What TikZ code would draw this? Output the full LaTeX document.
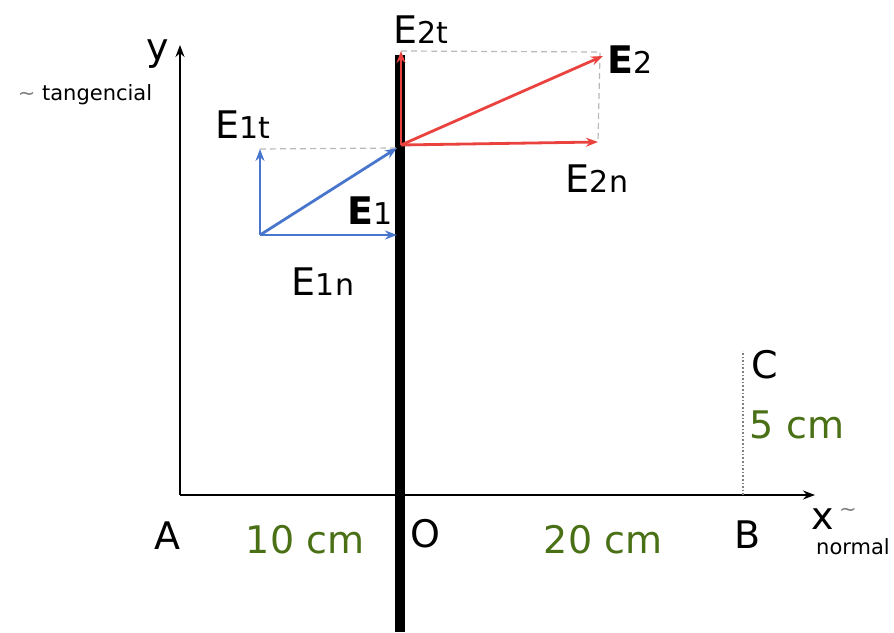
\documentclass[tikz,border=0pt]{standalone}
\usepackage{fontspec}
\setmainfont{DejaVu Sans}
\usetikzlibrary{arrows.meta}
\definecolor{vblue}{RGB}{72,118,204}
\definecolor{vred}{RGB}{234,66,62}
\definecolor{distgreen}{RGB}{74,112,22}
\newcommand{\vidx}[1]{{\fontsize{15}{17}\selectfont #1}}

\begin{document}
\begin{tikzpicture}[x=0.5pt, y=0.5pt,
    axis/.style={line width=0.9pt, -{Stealth[length=6pt,width=4.5pt]}},
    vec/.style={line width=1.4pt, -{Stealth[length=6pt,width=4.5pt]}},
    guide/.style={gray!55, densely dashed, line width=0.6pt},
    lbl/.style={font=\fontsize{19}{22}\selectfont, inner sep=0pt},
    dist/.style={lbl, text=distgreen},
    note/.style={font=\fontsize{10.5}{12}\selectfont, inner sep=0pt}]
  \useasboundingbox (0,0) rectangle (894,632);
  % axes and wall
  \coordinate (orig) at (180,137);
  \coordinate (ytip) at (180,587);
  \coordinate (xtip) at (815,137);
  \coordinate (wallbot) at (400,0);
  \coordinate (walltop) at (400,577);
  \draw[axis] (orig) -- (ytip);
  \draw[axis] (orig) -- (xtip);
  \draw[line width=5pt] (wallbot) -- (walltop);
  % distance to C
  \coordinate (Bpt) at (743,137);
  \coordinate (Cpt) at (743,281);
  \draw[gray, densely dotted, line width=0.8pt] (Bpt) -- (Cpt);
  % E1 side
  \coordinate (P1) at (260,397);
  \coordinate (E1tip) at (397,484);
  \coordinate (E1ntip) at (397,397);
  \coordinate (E1ttip) at (260,483);
  \draw[guide] (E1ttip) -- (E1tip);
  \draw[vec, vblue] (P1) -- (E1ntip);
  \draw[vec, vblue] (P1) -- (E1ttip);
  \draw[vec, vblue] (P1) -- (E1tip);
  % E2 side
  \coordinate (P2) at (401,487);
  \coordinate (E2tip) at (603,576);
  \coordinate (E2ntip) at (598,490);
  \coordinate (E2ttip) at (401,581);
  \coordinate (E2corner) at (600,580);
  \draw[guide] (E2ttip) -- (E2corner) -- (E2ntip);
  \draw[vec, vred] (P2) -- (E2ntip);
  \draw[vec, vred] (P2) -- (E2ttip);
  \draw[vec, vred] (P2) -- (E2tip);
  % labels
  \node[lbl] (ylab) at (158,578) {y};
  \node[note] (tang) at (85,537) {{\color{gray}∼} tangencial};
  \node[lbl] (xlab) at (823,113) {x};
  \node[note, text=gray] (xtilde) at (848,120) {∼};
  \node[note] (norm) at (853,85) {normal};
  \node[lbl] (E1tlab) at (243,507) {E\vidx{1t}};
  \node[lbl] (E1lab) at (370,421) {\textbf{E}\vidx{1}};
  \node[lbl] (E1nlab) at (323,350) {E\vidx{1n}};
  \node[lbl] (E2tlab) at (421,602) {E\vidx{2t}};
  \node[lbl] (E2lab) at (630,572) {\textbf{E}\vidx{2}};
  \node[lbl] (E2nlab) at (597,453) {E\vidx{2n}};
  \node[lbl] (Alab) at (167,96) {A};
  \node[lbl] (Olab) at (425,98) {O};
  \node[lbl] (Blab) at (748,97) {B};
  \node[lbl] (Clab) at (765,267) {C};
  \node[dist] (d10) at (305,92) {10 cm};
  \node[dist] (d20) at (603,92) {20 cm};
  \node[dist] (d5) at (797,207) {5 cm};
\end{tikzpicture}
\end{document}
